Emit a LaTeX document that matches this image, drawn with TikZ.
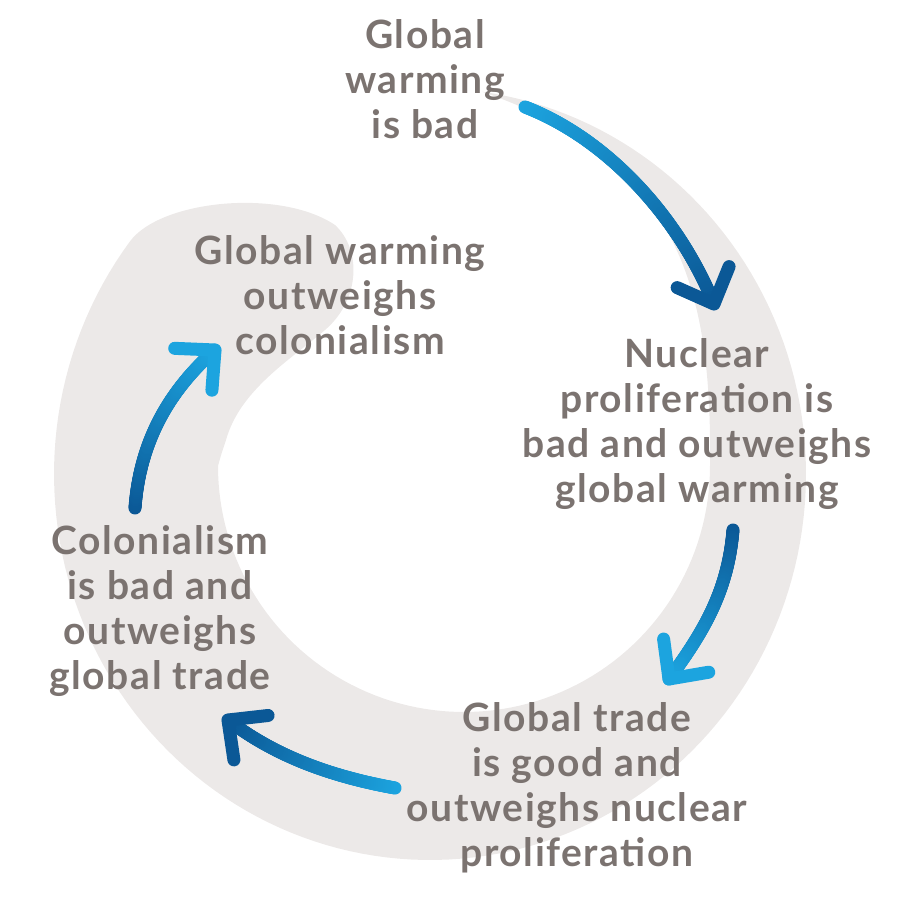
\documentclass[tikz,border=0pt]{standalone}
\usepackage{fontspec}
\setmainfont{Lato}[LetterSpace=4]
\usetikzlibrary{decorations.markings}
\definecolor{bandgray}{HTML}{ECE9E8}
\definecolor{txtgray}{HTML}{7B7370}
\definecolor{ltblue}{HTML}{1CA4DF}
\definecolor{dkblue}{HTML}{0B5896}
\begin{document}
\begin{tikzpicture}[x=1pt,y=-1pt,
  lbl/.style={align=center, inner sep=0pt, anchor=base, text=txtgray,
    font=\fontsize{39}{45}\selectfont\bfseries},
  band/.style={fill=bandgray},
  gradarrow/.style 2 args={
    postaction={decorate, decoration={markings,
      mark=between positions 0 and 1 step 1pt with {
        \pgfmathsetmacro\myq{\pgfkeysvalueof{/pgf/decoration/mark info/distance from start}/\pgfdecoratedpathlength}
        \pgfmathtruncatemacro\myp{100*\myq}
        \fill[#2!\myp!#1] (0,0) circle (6.5pt);}}},
    postaction={decorate, decoration={markings,
      mark=at position 1 with {
        \draw[color=#2, line width=13pt, line cap=round, line join=round]
          (-29,28) -- (0,0) -- (-29,-28);}}}}
]
\useasboundingbox (0,0) rectangle (900,900);

% grey spiral band
\fill[band] (482.3,91.8)
  -- plot[domain=82:-217, samples=160] ({430+376*cos(\x)}, {474-386*sin(\x)})
  .. controls (160,200) and (280,188) .. (335,225)
  .. controls (362,250) and (360,300) .. (325,330)
  .. controls (290,360) and (240,390) .. (226,440)
  .. controls (221,455) .. (218,466)
  -- plot[domain=180:360, samples=90] ({464+246*cos(\x)}, {466-246*sin(\x)})
  .. controls (712,290) and (680,160) .. (482.3,91.8) -- cycle;

% statements (anchor = baseline of the last line)
\node[lbl] (n1) at (425,138) {Global\\warming\\is bad};
\node[lbl] (n2) at (340,354) {Global warming\\outweighs\\colonialism};
\node[lbl] (n3) at (697,502) {Nuclear\\proliferation is\\bad and outweighs\\global warming};
\node[lbl] (n4) at (160,689) {Colonialism\\is bad and\\outweighs\\global trade};
\node[lbl] (n5) at (577,866) {Global trade\\is good and\\outweighs nuclear\\proliferation};

% arrow end points
\coordinate (a1s) at (525,107);  \coordinate (a1e) at (714,304);
\coordinate (a2s) at (733,530);  \coordinate (a2e) at (669,679);
\coordinate (a3s) at (395,788);  \coordinate (a3e) at (228,720);
\coordinate (a4s) at (135,508);  \coordinate (a4e) at (215,350);

\path[gradarrow={ltblue}{dkblue}] (a1s) .. controls (610,140) and (680,220) .. (a1e);
\path[gradarrow={dkblue}{ltblue}] (a2s) .. controls (728,590) and (705,630) .. (a2e);
\path[gradarrow={ltblue}{dkblue}] (a3s) .. controls (340,778) and (280,760) .. (a3e);
\path[gradarrow={dkblue}{ltblue}] (a4s) .. controls (140,440) and (170,390) .. (a4e);
\end{tikzpicture}
\end{document}
